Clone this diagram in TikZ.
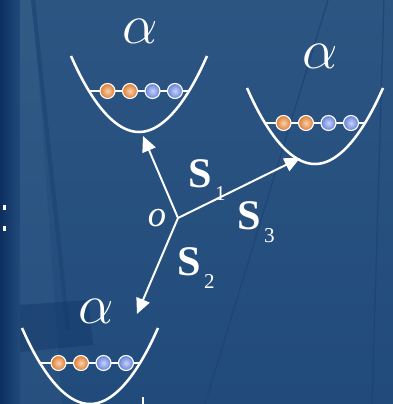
\RequirePackage{fix-cm}
\documentclass[tikz,border=0pt]{standalone}
\usepackage{fontspec}
\setmainfont{Liberation Serif}
\usetikzlibrary{arrows.meta,shadings}
\definecolor{slideblue}{HTML}{2C5582}
\definecolor{slidedeep}{HTML}{214B7B}
\definecolor{stripnavy}{HTML}{0C2F60}
\definecolor{streak}{HTML}{1D4674}
\definecolor{ballorange}{HTML}{F38A35}
\definecolor{ballblue}{HTML}{6F8FF0}

\newcommand{\vsub}[1]{\raisebox{-0.3em}{\fontsize{15}{15}\selectfont\mdseries\,#1}}

\tikzset{
  wall/.style={white, line width=1.8pt},
  chain/.style={white, line width=1pt},
  spin/.style={draw=white, line width=0.8pt},
  shift arrow/.style={white, line width=1.4pt, -{Triangle[length=11pt,width=10pt]}},
  greek/.style={text=white, inner sep=0pt, font=\fontsize{40}{40}\selectfont},
  vec/.style={text=white, inner sep=0pt, font=\fontsize{30}{30}\selectfont\bfseries},
}

\begin{document}
\begin{tikzpicture}[x=0.025cm,y=-0.025cm]
\useasboundingbox (0,0) rectangle (393,404);
% slide background
\shade[top color=slideblue, bottom color=slidedeep] (0,0) rectangle (393,404);
\shade[left color=stripnavy, right color=slidedeep] (0,0) rectangle (20,404);
\fill[white, opacity=0.03] (20,0) -- (33,0) -- (62,404) -- (20,404) -- cycle;
\draw[streak, line width=3pt, opacity=0.7] (33,0) -- (68,330);
\fill[stripnavy, opacity=0.35] (20,305) -- (88,300) -- (93,345) -- (20,352) -- cycle;
\draw[streak, line width=0.8pt] (328,0) -- (205,404);
\draw[streak, line width=0.8pt] (384,0) -- (372,404);
\fill[white] (3,205) rectangle (6,210);
\fill[white] (3,226) rectangle (6,231);
\draw[white, line width=1.2pt] (143,397) -- (143,404);

% three traps with their four spins each
\foreach \n/\cx/\ty in {up/139/56, right/315/88, down/90/328}{
  \draw[wall] ({\cx-68},\ty) parabola bend (\cx,{\ty+76}) ({\cx+68},\ty);
  \draw[chain] ({\cx-50},{\ty+35}) -- ({\cx+50},{\ty+35});
  \foreach \dx/\c in {-31.5/ballorange, -9/ballorange, 13.5/ballblue, 36/ballblue}
    \shadedraw[inner color=\c!40!white, outer color=\c!90!black, spin] ({\cx+\dx},{\ty+35}) circle (7.5);
}

\node[greek] (alpha-up) at (140,31) {$\alpha$};
\node[greek] (alpha-right) at (320,56) {$\alpha$};
\node[greek] (alpha-down) at (96,311) {$\alpha$};

% shifts from the origin
\coordinate (vertex) at (178,218);
\coordinate (tip-up) at (143,136);
\coordinate (tip-right) at (300,158);
\coordinate (tip-down) at (137,314);
\draw[shift arrow] (vertex) -- (tip-up);
\draw[shift arrow] (vertex) -- (tip-right);
\draw[shift arrow] (vertex) -- (tip-down);

\node[text=white, inner sep=0pt, font=\fontsize{26}{26}\selectfont\itshape] (origin) at (157,218) {o};
\node[vec] (s-one) at (207,180) {S\vsub{1}};
\node[vec] (s-three) at (256,222) {S\vsub{3}};
\node[vec] (s-two) at (196,268) {S\vsub{2}};
\end{tikzpicture}
\end{document}
